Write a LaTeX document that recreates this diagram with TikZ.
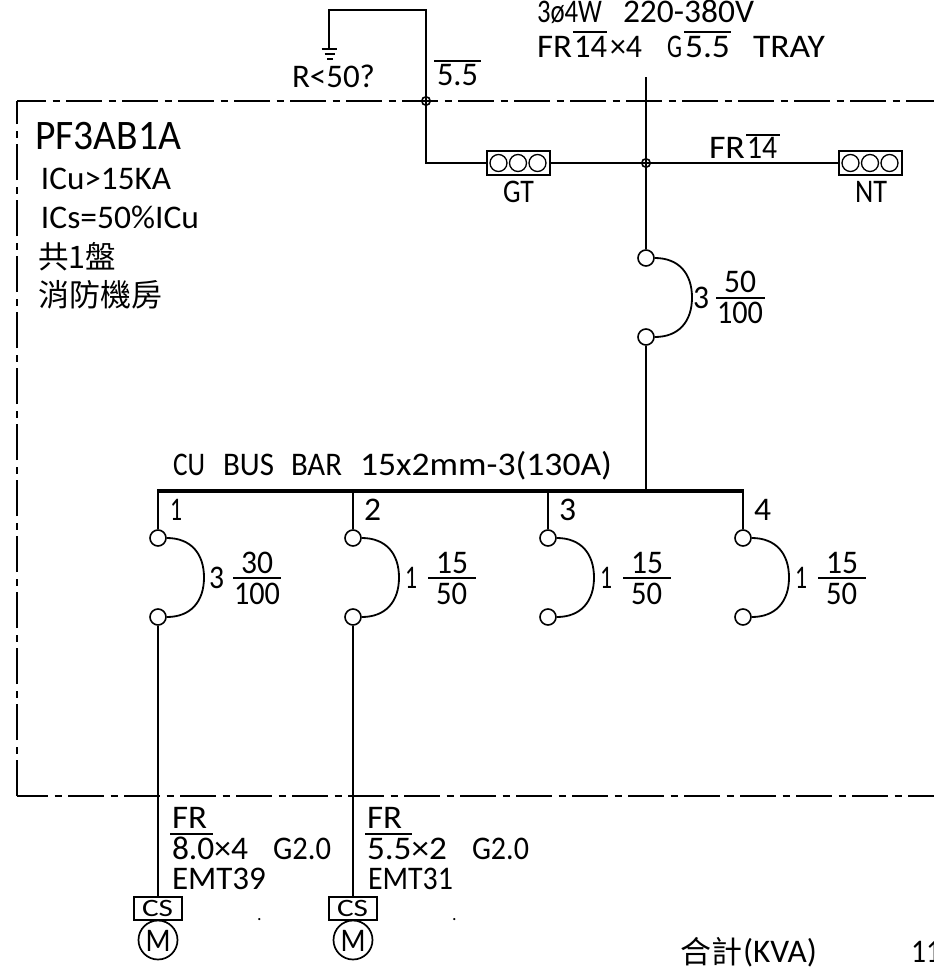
\documentclass[tikz,border=0pt]{standalone}
\usepackage{graphicx}
\usepackage{fontspec}
\setmainfont{Carlito}
\newfontfamily\cjk{Noto Sans CJK TC}
\newcommand\fa{\fontsize{33}{35}\selectfont}
\newcommand\fb{\fontsize{42}{44}\selectfont}
\newcommand\fc{\cjk\fontsize{31}{33}\selectfont}
\newcommand\fd{\fontsize{25}{27}\selectfont}
\newsavebox\tmpbox
\newcommand\T[6][\fa]{\node[txt] (#2) at (#3,-#4) {#1\sbox\tmpbox{#6}\pgfmathsetmacro\rr{#5/\the\wd\tmpbox}\scalebox{\rr}[1]{#6}};}
\newcommand\Brk[4]{%
  \node[brkc] (#1t) at (#2,-#3) {};
  \node[brkc] (#1b) at (#2,-#4) {};
  \coordinate (#1p) at ($(#1t.center)!0.5!(#1b.center)+(46,0)$);
  \draw[wire] (#1t.east) .. controls +(24,0) and +(0,24) .. (#1p) .. controls +(0,-24) and +(24,0) .. (#1b.east);}
\newcommand\Term[2]{%
  \node[termbox] (#1) at (#2,-163) {};
  \node[termc] (#1a) at ($(#1.center)+(-20,0)$) {};
  \node[termc] (#1b) at ($(#1.center)+(-0.5,0)$) {};
  \node[termc] (#1c) at ($(#1.center)+(19,0)$) {};}
\usetikzlibrary{calc}
\tikzset{
  wire/.style={line width=1.8pt,black},
  frameline/.style={line width=1.8pt,black,dash pattern=on 36pt off 6.5pt on 7pt off 6.5pt},
  busbar/.style={line width=3.2pt,black},
  txt/.style={anchor=base west,inner sep=0pt,outer sep=0pt,text=black},
  brkc/.style={circle,draw,line width=1.6pt,minimum size=16pt,inner sep=0pt},
  junc/.style={circle,draw,line width=1.6pt,minimum size=8.5pt,inner sep=0pt},
  termbox/.style={draw,line width=1.7pt,minimum width=63pt,minimum height=24pt,inner sep=0pt},
  termc/.style={circle,draw,line width=1.3pt,minimum size=17pt,inner sep=0pt},
  csbox/.style={draw,line width=1.7pt,minimum width=48pt,minimum height=23pt,inner sep=0pt},
  motor/.style={circle,draw,line width=1.7pt,minimum size=39pt,inner sep=0pt},
  rulef/.style={line width=1.7pt,black}
}
\begin{document}
\begin{tikzpicture}[x=1pt,y=1pt]
\useasboundingbox (0,0) rectangle (934,-970);
% frame
\coordinate (fTL) at (17,-101);
\coordinate (fTR) at (934,-101);
\coordinate (fBL) at (17,-796);
\coordinate (fBR) at (934,-796);
\draw[frameline,dash phase=7pt] (fTL) -- (fTR);
\draw[frameline] (fBL) -- (fTL);
\draw[frameline,dash phase=5pt] (fBL) -- (fBR);
% earth wire
\node[junc] (jg) at (426,-101) {};
\node[junc] (jm) at (646,-163) {};
\coordinate (etop) at (426,-10);
\coordinate (eleft) at (329,-10);
\coordinate (egnd) at (329,-49);
\coordinate (ecor) at (426,-163);
\Term{gt}{518.5}
\Term{nt}{870.5}
\draw[wire] (egnd) -- (eleft) -- (etop) -- (jg.center);
\draw[wire] (jg.center) -- (ecor) -- (gt.west);
\draw[wire] (gt.east) -- (jm.center);
\draw[wire] (jm.center) -- (nt.west);
\draw[wire] (321.5,-49) -- (337,-49);
\draw[wire] (324.5,-54) -- (335,-54);
\draw[wire] (327,-59) -- (333,-59);
% main feed
\coordinate (mtop) at (646,-77);
\Brk{m}{646}{258}{337}
\coordinate (mbus) at (646,-491);
\draw[wire] (mtop) -- (jm.center);
\draw[wire] (jm.center) -- (mt.north);
\draw[wire] (mb.south) -- (mbus);
% bus
\coordinate (busL) at (157,-491);
\coordinate (busR) at (744,-491);
\draw[busbar] (busL) -- (busR);
\Brk{a}{158}{538}{617}
\Brk{b}{353}{538}{617}
\Brk{c}{548}{538}{617}
\Brk{d}{743}{538}{617}
\draw[wire] (158,-491) -- (at.north);
\draw[wire] (353,-491) -- (bt.north);
\draw[wire] (548,-491) -- (ct.north);
\draw[wire] (743,-491) -- (dt.north);
% motors
\node[csbox] (csa) at (158,-908.5) {};
\node[csbox] (csb) at (353,-908.5) {};
\node[motor] (ma) at (158,-940) {};
\node[motor] (mb2) at (353,-940) {};
\draw[wire] (ab.south) -- (csa.north);
\draw[wire] (bb.south) -- (csb.north);
\T[\fd]{tcsa}{142}{916}{31}{CS}
\T[\fd]{tcsb}{337}{916}{31}{CS}
\T{tma}{145.5}{951}{25}{M}
\T{tmb}{340.5}{951}{25}{M}
% top texts
\T{v1a}{537}{22}{65}{3ø4W}
\T{v1b}{623}{22}{131}{220-380V}
\T{v2a}{537}{57}{35}{FR}
\T{v2b}{574}{57}{33}{14}
\T{v2c}{610}{57}{32}{×4}
\T{v2d}{667}{57}{15}{G}
\T{v2e}{685}{57}{45}{5.5}
\T{v2f}{753}{57}{72}{TRAY}
\draw[rulef] (573,-32) -- (607,-32);
\draw[rulef] (684,-32) -- (731,-32);
\T{r}{292}{87}{83}{R<50?}
\T{s}{437}{85}{41}{5.5}
\draw[rulef] (434,-61) -- (481,-61);
\T{fr}{709}{158}{36}{FR}
\T{frb}{747}{158}{30}{14}
\draw[rulef] (746,-135) -- (780,-135);
\T{g}{503}{202}{31}{GT}
\T{n}{855}{202}{32}{NT}
% left texts
\T[\fb]{p}{35}{149}{146}{PF3AB1A}
\T{i1}{41}{189}{130}{ICu>15KA}
\T{i2}{41}{228}{158}{ICs=50\%ICu}
\T[\fc]{j1}{38}{268}{78}{共1盤}
\T[\fc]{j2}{38}{306}{124}{消防機房}
% main breaker labels
\T{mp}{693}{308}{16}{3}
\T{mn}{724}{292}{32}{50}
\draw[rulef] (716,-298) -- (765,-298);
\T{md}{717}{323}{46}{100}
% bus label
\T{cu}{173}{475}{32}{CU}
\T{cub}{223}{475}{51}{BUS}
\T{cuc}{291}{475}{51}{BAR}
\T{cud}{360}{475}{252}{15x2mm-3(130A)}
\T{n1}{170}{520}{12}{1}
\T{n2}{364}{520}{17}{2}
\T{n3}{559}{520}{17}{3}
\T{n4}{754}{520}{17}{4}
% branch labels
\T{ap}{209}{588}{15}{3}
\T{an}{241}{573}{32}{30}
\draw[rulef] (233,-578) -- (281,-578);
\T{ad}{234}{604}{46}{100}
\T{bp}{405}{588}{12}{1}
\T{bn}{436}{573}{32}{15}
\draw[rulef] (428,-578) -- (476,-578);
\T{bd}{436}{604}{31}{50}
\T{cp}{600}{588}{12}{1}
\T{cn}{631}{573}{32}{15}
\draw[rulef] (623,-578) -- (671,-578);
\T{cd}{631}{604}{31}{50}
\T{dp}{795}{588}{12}{1}
\T{dn}{826}{573}{32}{15}
\draw[rulef] (818,-578) -- (866,-578);
\T{dd}{826}{604}{31}{50}
% cables
\T{a1}{172}{828}{35}{FR}
\draw[rulef] (170,-834) -- (213,-834);
\T{a2}{172}{859}{76}{8.0×4}
\T{a2g}{273}{859}{58}{G2.0}
\T{a3}{172}{889}{94}{EMT39}
\T{b1}{367}{828}{35}{FR}
\draw[rulef] (365,-834) -- (412,-834);
\T{b2}{367}{859}{80}{5.5×2}
\T{b2g}{472}{859}{57}{G2.0}
\T{b3}{368}{889}{85}{EMT31}
\node[txt] (dota) at (257,-920) {\fontsize{18}{20}\selectfont .};
\node[txt] (dotb) at (452,-920) {\fontsize{18}{20}\selectfont .};
% total
\T[\fc]{tt}{680}{963}{62}{合計}
\T{tk}{743}{962}{74}{(KVA)}
\T{tv}{911}{962}{30}{11}
\end{tikzpicture}
\end{document}
